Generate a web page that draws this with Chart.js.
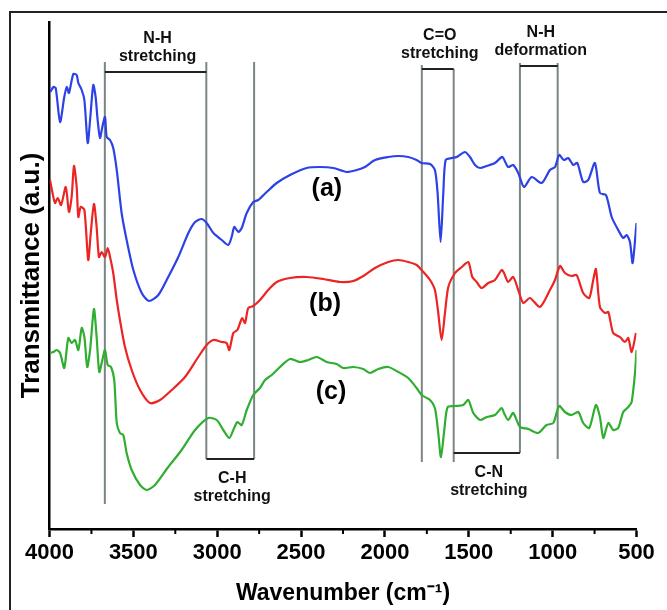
<!DOCTYPE html>
<html>
<head>
<meta charset="utf-8">
<script src="https://cdn.jsdelivr.net/npm/chart.js@4/dist/chart.umd.min.js"></script>
<style>
  html, body { margin: 0; padding: 0; background: #fff; }
</style>
</head>
<body>
<canvas id="graficoFTIR" width="667" height="610"></canvas>
<script>
// espectros FTIR (numero de onda em cm-1, transmitancia em u.a.)
const ondaA = [3995, 3977, 3963, 3937, 3912, 3897, 3884, 3858, 3838, 3828, 3808, 3792, 3772, 3758, 3739, 3725, 3713, 3699, 3685, 3669,
  3659, 3639, 3620, 3599, 3570, 3540, 3500, 3450, 3407, 3351, 3292, 3232, 3172, 3132, 3093, 3063, 3023, 2973, 2934, 2914,
  2898, 2874, 2854, 2824, 2785, 2755, 2705, 2645, 2566, 2467, 2387, 2308, 2228, 2168, 2119, 2059, 1980, 1920, 1861, 1811,
  1781, 1731, 1702, 1686, 1668, 1652, 1638, 1602, 1572, 1523, 1493, 1463, 1433, 1393, 1344, 1304, 1294, 1265, 1235, 1205,
  1171, 1125, 1065, 1016, 986, 961, 933, 907, 877, 853, 818, 788, 748, 718, 682, 648, 609, 579, 559, 539, 523, 500];
const transA = [437, 442, 441, 407, 432, 442, 436, 455, 454, 446, 439, 429, 386, 409, 444, 432, 409, 391, 402, 412,
  392, 389, 381, 359, 316, 289, 259, 236, 228, 234, 252, 272, 296, 307, 310, 306, 296, 289, 284, 292,
  302, 297, 301, 316, 327, 329, 337, 346, 354, 361, 362, 361, 357, 359, 362, 369, 372, 373, 372, 369,
  366, 365, 359, 336, 287, 336, 369, 371, 372, 377, 372, 364, 361, 363, 366, 372, 371, 362, 364, 356,
  342, 352, 346, 359, 362, 374, 369, 371, 364, 366, 347, 349, 366, 336, 334, 312, 299, 291, 294, 287, 266, 306];

const ondaB = [3997, 3983, 3967, 3951, 3931, 3903, 3884, 3868, 3854, 3838, 3828, 3814, 3792, 3769, 3754, 3735, 3719, 3705, 3689, 3669,
  3653, 3639, 3620, 3599, 3580, 3550, 3510, 3460, 3401, 3341, 3271, 3192, 3113, 3063, 3023, 2973, 2944, 2928, 2904, 2880,
  2864, 2851, 2834, 2815, 2785, 2745, 2696, 2645, 2566, 2467, 2368, 2268, 2189, 2119, 2059, 1980, 1920, 1861, 1811, 1771,
  1731, 1702, 1682, 1662, 1642, 1622, 1582, 1542, 1503, 1479, 1453, 1423, 1384, 1344, 1304, 1290, 1265, 1235, 1205, 1175,
  1135, 1076, 1016, 986, 956, 927, 887, 857, 818, 782, 758, 742, 718, 688, 668, 639, 599, 569, 549, 529, 503];
const transB = [349, 337, 326, 331, 324, 342, 317, 332, 363, 342, 312, 322, 319, 269, 296, 325, 302, 272, 277, 272,
  281, 272, 256, 229, 209, 182, 159, 139, 126, 129, 139, 152, 172, 184, 189, 187, 186, 179, 196, 199,
  206, 211, 206, 221, 223, 229, 239, 247, 251, 252, 250, 247, 248, 254, 261, 267, 269, 267, 264, 257,
  249, 239, 216, 189, 216, 242, 256, 262, 267, 252, 247, 241, 246, 249, 259, 256, 247, 252, 239, 226,
  231, 222, 239, 249, 263, 256, 253, 254, 236, 231, 249, 260, 222, 216, 217, 196, 192, 187, 191, 177, 196];

const ondaC = [3997, 3977, 3957, 3937, 3912, 3888, 3868, 3848, 3828, 3808, 3792, 3775, 3758, 3735, 3719, 3703, 3685, 3669, 3653, 3633,
  3614, 3599, 3580, 3560, 3540, 3510, 3460, 3420, 3371, 3292, 3212, 3132, 3053, 3003, 2964, 2928, 2904, 2880, 2854, 2824,
  2785, 2745, 2715, 2675, 2626, 2566, 2507, 2457, 2407, 2347, 2288, 2248, 2189, 2129, 2089, 2040, 1980, 1920, 1861, 1811,
  1781, 1731, 1702, 1682, 1666, 1646, 1626, 1582, 1533, 1503, 1473, 1433, 1393, 1344, 1304, 1290, 1265, 1235, 1195, 1145,
  1086, 1036, 996, 961, 927, 887, 847, 818, 782, 742, 718, 698, 668, 639, 609, 579, 549, 529, 509, 500];
const transC = [176, 177, 179, 176, 161, 191, 186, 189, 179, 201, 192, 162, 179, 220, 192, 157, 169, 179, 164, 162,
  149, 106, 96, 94, 76, 59, 44, 39, 44, 62, 79, 99, 111, 109, 99, 91, 99, 107, 104, 119,
  134, 141, 149, 154, 162, 170, 167, 169, 172, 167, 165, 161, 162, 160, 156, 160, 162, 157, 151, 141,
  134, 129, 121, 96, 72, 99, 122, 123, 124, 129, 116, 109, 112, 114, 121, 116, 109, 116, 102, 100,
  96, 104, 106, 123, 117, 114, 117, 106, 101, 124, 112, 91, 106, 99, 101, 117, 122, 127, 156, 179];

// linhas verticais das regioes (cm-1) e suas extremidades (u.a.)
const linhasOnda = [3670, 3065, 2780, 1780, 1590, 1195, 970];
const linhasTopo = [467, 467, 467, 464, 460, 466, 466];
const linhasBase = [25, 70, 70, 67, 67, 76, 70];

// faixas anotadas
const faixasDe = [3670, 3065, 1780, 1590, 1195];
const faixasAte = [3065, 2780, 1590, 1195, 970];
const faixasNivel = [457, 70, 460, 76, 463];
const faixasTexto = [['N-H', 'stretching'], ['C-H', 'stretching'], ['C=O', 'stretching'], ['C-N', 'stretching'], ['N-H', 'deformation']];
const faixasAcima = [true, false, true, false, true];

// rotulos das amostras
const amostras = ['(a)', '(b)', '(c)'];
const amostrasOnda = [2346, 2357, 2322];
const amostrasNivel = [340, 225, 137];

const FONTE = '"Liberation Sans", Arial, sans-serif';

function pontos(xs, ys) {
    return xs.map((x, i) => ({ x: x, y: ys[i] }));
}

//Plugin para desenhar moldura, linhas verticais, faixas e rotulos
const anotacoes = {
    id: 'anotacoes',
    beforeDraw(chart) {
        const c = chart.ctx;
        c.save();
        c.strokeStyle = '#222';
        c.lineWidth = 2;
        c.beginPath();
        c.moveTo(10, 610);
        c.lineTo(10, 12);
        c.lineTo(667, 12);
        c.stroke();
        c.restore();
    },
    beforeDatasetsDraw(chart) {
        const c = chart.ctx;
        const sx = chart.scales.x, sy = chart.scales.y;
        c.save();
        c.strokeStyle = '#7b8585';
        c.lineWidth = 2;
        linhasOnda.forEach((w, i) => {
            const x = sx.getPixelForValue(w);
            c.beginPath();
            c.moveTo(x, sy.getPixelForValue(linhasTopo[i]));
            c.lineTo(x, sy.getPixelForValue(linhasBase[i]));
            c.stroke();
        });
        c.restore();
    },
    afterDatasetsDraw(chart) {
        const c = chart.ctx;
        const sx = chart.scales.x, sy = chart.scales.y;
        c.save();
        // faixas
        faixasDe.forEach((de, i) => {
            const x1 = sx.getPixelForValue(de);
            const x2 = sx.getPixelForValue(faixasAte[i]);
            const y = sy.getPixelForValue(faixasNivel[i]);
            c.strokeStyle = '#222';
            c.lineWidth = 2;
            c.beginPath();
            c.moveTo(x1, y);
            c.lineTo(x2, y);
            c.stroke();
            c.fillStyle = '#111';
            c.font = 'bold 16px ' + FONTE;
            c.textAlign = 'center';
            c.textBaseline = 'middle';
            const xm = (x1 + x2) / 2 + 2;
            if (faixasAcima[i]) {
                c.fillText(faixasTexto[i][0], xm, y - 33);
                c.fillText(faixasTexto[i][1], xm, y - 15);
            } else {
                c.fillText(faixasTexto[i][0], xm, y + 20);
                c.fillText(faixasTexto[i][1], xm, y + 38);
            }
        });
        // amostras
        c.font = 'bold 25px ' + FONTE;
        c.fillStyle = '#000';
        amostras.forEach((t, i) => {
            c.fillText(t, sx.getPixelForValue(amostrasOnda[i]), sy.getPixelForValue(amostrasNivel[i]));
        });
        // ticks menores
        c.strokeStyle = '#000';
        c.lineWidth = 2;
        for (let v = 750; v < 4000; v += 500) {
            const x = sx.getPixelForValue(v);
            c.beginPath();
            c.moveTo(x, sy.bottom);
            c.lineTo(x, sy.bottom + 5);
            c.stroke();
        }
        c.restore();
    }
};

const grafico = document.getElementById('graficoFTIR').getContext('2d');
new Chart(grafico, {
    type: 'line',
    data: {
        datasets: [
            { label: '(a)', data: pontos(ondaA, transA), borderColor: '#2d42e6' },
            { label: '(b)', data: pontos(ondaB, transB), borderColor: '#ec2424' },
            { label: '(c)', data: pontos(ondaC, transC), borderColor: '#2fae2f' }
        ]
    },
    options: {
        responsive: false,
        animation: false,
        layout: { padding: { top: 22, right: 30.5, bottom: 0, left: 0 } },
        plugins: { legend: { display: false }, tooltip: { enabled: false } },
        elements: {
            point: { radius: 0 },
            line: { tension: 0.25, borderWidth: 2.2, fill: false }
        },
        scales: {
            x: {
                type: 'linear',
                reverse: true,
                min: 500,
                max: 4000,
                ticks: {
                    stepSize: 250,
                    autoSkip: false,
                    maxRotation: 0,
                    padding: 3,
                    color: '#000',
                    font: { family: FONTE, size: 22, weight: 'bold' },
                    callback: v => (v % 500 === 0 ? String(v) : '')
                },
                grid: {
                    drawOnChartArea: false,
                    tickLength: 8,
                    tickWidth: 2.5,
                    tickColor: ctx => (ctx.tick && ctx.tick.value % 500 === 0 ? '#000' : 'rgba(0,0,0,0)')
                },
                border: { color: '#000', width: 2.5 },
                title: {
                    display: true,
                    text: 'Wavenumber (cm⁻¹)',
                    color: '#000',
                    font: { family: FONTE, size: 23, weight: 'bold' },
                    padding: { top: 0, bottom: 3 }
                },
                afterFit: s => { s.height = 81; }
            },
            y: {
                min: 0,
                max: 507,
                ticks: { display: false },
                grid: { drawOnChartArea: false, drawTicks: false },
                border: { color: '#000', width: 2.5 },
                title: {
                    display: true,
                    text: 'Transmittance (a.u.)',
                    color: '#000',
                    font: { family: FONTE, size: 26, weight: 'bold' },
                    padding: { top: 16, bottom: 0 }
                },
                afterFit: s => { s.width = 49.5; }
            }
        }
    },
    plugins: [anotacoes]
});
</script>
</body>
</html>
